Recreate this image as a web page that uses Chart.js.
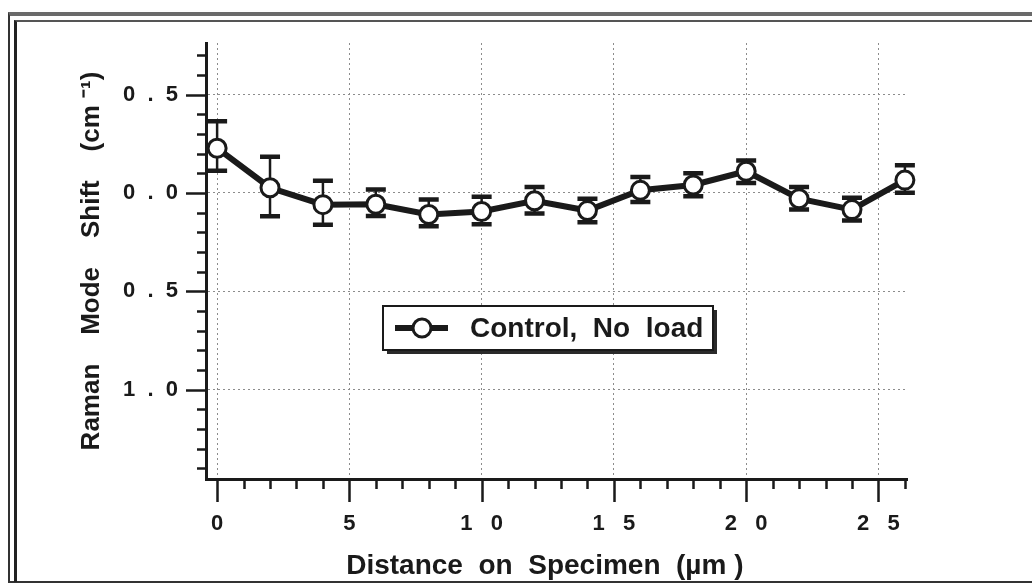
<!DOCTYPE html>
<html>
<head>
<meta charset="utf-8">
<script src="https://cdn.jsdelivr.net/npm/chart.js@4/dist/chart.umd.min.js"></script>
<style>
  html, body { margin: 0; padding: 0; background: #fff; }
  #wrap { position: relative; width: 1032px; height: 583px; overflow: hidden; }
  #chart { position: absolute; left: 0; top: 0; }
  .frame { position: absolute; pointer-events: none; }
</style>
</head>
<body>
<div id="wrap">
  <canvas id="chart" width="1032" height="583"></canvas>
  <div class="frame" style="left:8px; top:12px; width:1100px; height:565px; border-left:2px solid #333; border-top:4px solid #6a6a6a; border-bottom:2px solid #333;"></div>
  <div class="frame" style="left:14px; top:20px; width:1100px; height:560px; border-left:3px solid #222; border-top:2px solid #555;"></div>
</div>
<script>
// distance along the specimen (um) and the measured shift (cm^-1)
const distances = [0, 2, 4, 6, 8, 10, 12, 14, 16, 18, 20, 22, 24, 26];
const shifts = [0.227, 0.026, -0.06, -0.058, -0.11, -0.095, -0.04, -0.09, 0.013, 0.04, 0.11, -0.03, -0.085, 0.065];
// error bar ends
const errHigh = [0.364, 0.183, 0.061, 0.017, -0.034, -0.02, 0.03, -0.03, 0.08, 0.10, 0.165, 0.03, -0.025, 0.14];
const errLow = [0.113, -0.119, -0.162, -0.118, -0.17, -0.16, -0.105, -0.15, -0.047, -0.017, 0.05, -0.085, -0.14, 0.0];
const seriesLabel = 'Control,  No  load';

const ink = '#1a1a1a';
const fontFamily = '"Liberation Sans", Arial, sans-serif';

function isMajorY(v) { return Math.round(v * 10) % 5 === 0; }
function isMajorX(v) { return Math.round(v) % 5 === 0; }

// error bars, drawn under the line and markers
const errorBars = {
    id: 'errorBars',
    beforeDatasetsDraw(chart) {
        const ctx = chart.ctx;
        const xs = chart.scales.x, ys = chart.scales.y;
        ctx.save();
        ctx.strokeStyle = ink;
        for (let i = 0; i < distances.length; i++) {
            const px = xs.getPixelForValue(distances[i]);
            const top = ys.getPixelForValue(errHigh[i]);
            const bot = ys.getPixelForValue(errLow[i]);
            ctx.lineWidth = 2.5;
            ctx.beginPath();
            ctx.moveTo(px, top); ctx.lineTo(px, bot);
            ctx.stroke();
            ctx.lineWidth = 4.5;
            ctx.beginPath();
            ctx.moveTo(px - 10, top); ctx.lineTo(px + 10, top);
            ctx.moveTo(px - 10, bot); ctx.lineTo(px + 10, bot);
            ctx.stroke();
        }
        ctx.restore();
    }
};

// outside tick marks, long at labelled values and short in between
const tickMarks = {
    id: 'tickMarks',
    afterDraw(chart) {
        const ctx = chart.ctx;
        const xs = chart.scales.x, ys = chart.scales.y;
        const area = chart.chartArea;
        ctx.save();
        ctx.strokeStyle = ink;
        ctx.lineWidth = 2.5;
        ctx.beginPath();
        xs.ticks.forEach(t => {
            const px = Math.round(xs.getPixelForValue(t.value)) + 0.5;
            ctx.moveTo(px, area.bottom);
            ctx.lineTo(px, area.bottom + (isMajorX(t.value) ? 23 : 10));
        });
        ys.ticks.forEach(t => {
            const py = Math.round(ys.getPixelForValue(t.value)) + 0.5;
            ctx.moveTo(area.left, py);
            ctx.lineTo(area.left - (isMajorY(t.value) ? 20 : 9), py);
        });
        ctx.stroke();
        ctx.restore();
    }
};

// boxed legend with drop shadow inside the plot
const boxLegend = {
    id: 'boxLegend',
    afterDraw(chart) {
        const ctx = chart.ctx;
        const area = chart.chartArea;
        const ds = chart.data.datasets[0];
        const x = area.left + 177, y = area.top + 263, w = 330, h = 44;
        ctx.save();
        ctx.fillStyle = '#2a2a2a';
        ctx.fillRect(x + 4, y + 4, w, h);
        ctx.fillStyle = '#fff';
        ctx.fillRect(x, y, w, h);
        ctx.strokeStyle = ink;
        ctx.lineWidth = 2;
        ctx.strokeRect(x, y, w, h);
        const cy = y + 22;
        ctx.lineWidth = 6;
        ctx.beginPath();
        ctx.moveTo(x + 12, cy); ctx.lineTo(x + 65, cy);
        ctx.stroke();
        ctx.beginPath();
        ctx.arc(x + 39, cy, 9, 0, Math.PI * 2);
        ctx.fillStyle = '#fff';
        ctx.fill();
        ctx.lineWidth = 3;
        ctx.stroke();
        ctx.fillStyle = ink;
        ctx.font = 'bold 28px ' + fontFamily;
        ctx.textBaseline = 'middle';
        ctx.fillText(ds.label, x + 87, cy + 1);
        ctx.restore();
    }
};

const points = distances.map((d, i) => ({ x: d, y: shifts[i] }));

new Chart(document.getElementById('chart'), {
    type: 'line',
    data: {
        datasets: [{
            label: seriesLabel,
            data: points,
            borderColor: ink,
            borderWidth: 6,
            pointRadius: 9,
            pointBorderWidth: 3,
            pointBackgroundColor: '#fff',
            pointBorderColor: ink,
            tension: 0,
            clip: false
        }]
    },
    options: {
        responsive: false,
        animation: false,
        layout: { padding: { top: 43, right: 125, bottom: 0, left: 0 } },
        plugins: {
            legend: { display: false },
            tooltip: { enabled: false }
        },
        scales: {
            x: {
                type: 'linear',
                min: -0.42,
                max: 26.08,
                afterFit(scale) { scale.height = 104; },
                border: { display: true, color: ink, width: 3, dash: [2, 3] },
                grid: {
                    drawTicks: false,
                    lineWidth: 1,
                    color: c => (c.tick && isMajorX(c.tick.value)) ? '#8c8c8c' : 'rgba(0,0,0,0)'
                },
                ticks: {
                    stepSize: 1,
                    includeBounds: false,
                    autoSkip: false,
                    maxRotation: 0,
                    padding: 32,
                    color: ink,
                    font: { family: fontFamily, size: 22, weight: 'bold' },
                    callback: v => isMajorX(v) ? String(Math.round(v)).split('').join('   ') : ''
                },
                title: {
                    display: true,
                    text: 'Distance  on  Specimen  (\u00b5m )   ',
                    color: ink,
                    font: { family: fontFamily, size: 28, weight: 'bold' },
                    padding: { top: 0, bottom: 0 }
                }
            },
            y: {
                type: 'linear',
                min: -1.455,
                max: 0.762,
                afterFit(scale) { scale.width = 206; },
                border: { display: true, color: ink, width: 3, dash: [2, 3] },
                grid: {
                    drawTicks: false,
                    lineWidth: 1,
                    color: c => (c.tick && isMajorY(c.tick.value)) ? '#8c8c8c' : 'rgba(0,0,0,0)'
                },
                ticks: {
                    stepSize: 0.1,
                    includeBounds: false,
                    autoSkip: false,
                    padding: 28,
                    color: ink,
                    font: { family: fontFamily, size: 22, weight: 'bold' },
                    callback: v => isMajorY(v) ? Math.abs(v).toFixed(1).split('').join('  ') : ''
                },
                title: {
                    display: true,
                    text: 'Raman    Mode    Shift    (cm \u207b\u00b9)',
                    color: ink,
                    font: { family: fontFamily, size: 26, weight: 'bold' },
                    padding: { top: 76, bottom: 0 }
                }
            }
        }
    },
    plugins: [errorBars, tickMarks, boxLegend]
});
</script>
</body>
</html>
